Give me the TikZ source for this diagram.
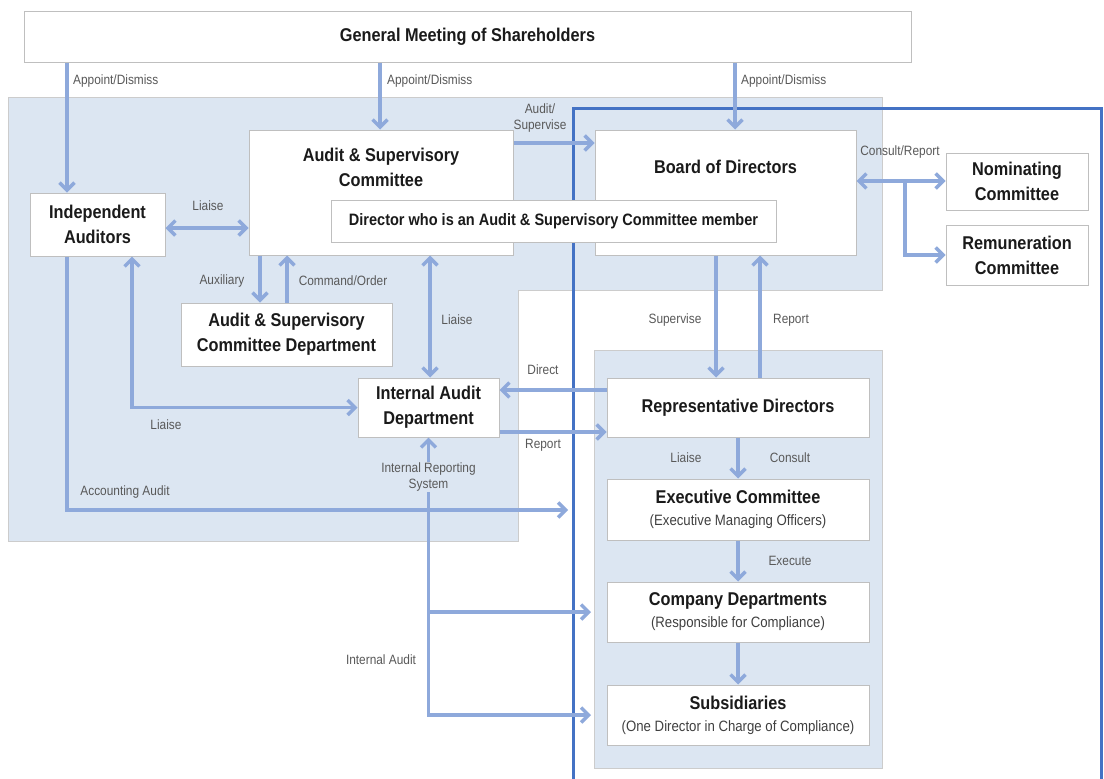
\documentclass[tikz,border=0pt]{standalone}
\usepackage{fontspec}
\setmainfont{Liberation Sans}[FakeStretch=0.88]
\usetikzlibrary{arrows.meta}
\definecolor{bgblue}{HTML}{DCE6F2}
\definecolor{arrblue}{HTML}{8EA9DB}
\definecolor{darkblue}{HTML}{4472C4}
\definecolor{boxgray}{HTML}{BFBFBF}
\definecolor{lblgray}{HTML}{595959}
\definecolor{ttlblack}{HTML}{1A1A1A}
\definecolor{subgray}{HTML}{404040}
\newcommand\boxfont{\fontsize{18.5}{25}\selectfont\bfseries}
\newcommand\subfont{\fontsize{15}{22}\selectfont}
\newcommand\lblfont{\fontsize{13.5}{16}\selectfont}
\newcommand\dirfont{\fontsize{16.5}{20}\selectfont\bfseries}
\tikzset{
  region/.style={fill=bgblue, draw=boxgray!80, line width=0.8pt},
  orgbox/.style={draw=boxgray, line width=1pt, fill=white, inner sep=0pt, align=center, text=ttlblack, font=\boxfont},
  subbox/.style={orgbox, font=\subfont, text=subgray},
  ttl/.style={inner sep=0pt, align=center, text=ttlblack, font=\boxfont},
  lbl/.style={inner sep=1pt, align=center, text=lblgray, font=\lblfont},
  tip/.tip={Straight Barb[length=7.5pt,width=15pt]},
  arr/.style={draw=arrblue, line width=3.5pt, -tip},
  arrtwo/.style={draw=arrblue, line width=3.5pt, tip-tip},
  frame/.style={draw=darkblue, line width=3pt}
}
\begin{document}
\begin{tikzpicture}[x=1pt,y=-1pt]
\useasboundingbox (0,0) rectangle (1104,779);
\fill[white] (0,0) rectangle (1104,779);
% background regions
\draw[region] (8,97) -- (882,97) -- (882,290) -- (518,290) -- (518,541) -- (8,541) -- cycle;
\draw[region] (594,350) rectangle (882,768);
% dark blue frame
\draw[frame] (573,779) -- (573,108) -- (1101,108) -- (1101,779);
% boxes
\node[orgbox, minimum width=887pt, minimum height=51pt] (gm) at (467.5,36.5) {General Meeting of Shareholders};
\node[orgbox, minimum width=135pt, minimum height=63pt] (ia) at (97.5,224.5) {Independent\\Auditors};
\node[orgbox, minimum width=264pt, minimum height=125pt] (asc) at (381,192.5) {};
\node[ttl] (asct) at (381,167) {Audit \& Supervisory\\Committee};
\node[orgbox, minimum width=261pt, minimum height=125pt] (bod) at (725.5,192.5) {};
\node[ttl] (bodt) at (725.5,167) {Board of Directors};
\node[orgbox, font=\dirfont, minimum width=445pt, minimum height=42pt] (dir) at (553.5,221) {Director who is an Audit \& Supervisory Committee member};
\node[orgbox, minimum width=142pt, minimum height=57pt] (nom) at (1017,181.5) {Nominating\\Committee};
\node[orgbox, minimum width=142pt, minimum height=60pt] (rem) at (1017,255) {Remuneration\\Committee};
\node[orgbox, minimum width=211pt, minimum height=63pt] (ascd) at (286.5,334.5) {Audit \& Supervisory\\Committee Department};
\node[orgbox, minimum width=141pt, minimum height=59pt] (iad) at (428.5,407.5) {Internal Audit\\Department};
\node[orgbox, minimum width=262pt, minimum height=59pt] (rep) at (738,407.5) {Representative Directors};
\node[subbox, minimum width=262pt, minimum height=61pt] (exe) at (738,509.5) {{\boxfont\color{ttlblack}Executive Committee}\\(Executive Managing Officers)};
\node[subbox, minimum width=262pt, minimum height=60pt] (cd) at (738,612) {{\boxfont\color{ttlblack}Company Departments}\\(Responsible for Compliance)};
\node[subbox, minimum width=262pt, minimum height=60pt] (sub) at (738,715) {{\boxfont\color{ttlblack}Subsidiaries}\\(One Director in Charge of Compliance)};
% helper coordinates
\coordinate (xA) at (67,0);
\coordinate (xB) at (380,0);
\coordinate (xC) at (735,0);
\coordinate (xL) at (132,0);
\coordinate (xAux) at (260,0);
\coordinate (xCmd) at (287,0);
\coordinate (xLi) at (430,0);
\coordinate (xSup) at (716,0);
\coordinate (xRep) at (760,0);
\coordinate (xBr) at (905,0);
\coordinate (yAS) at (0,143);
\coordinate (yLi) at (0,228);
\coordinate (yCR) at (0,181);
\coordinate (yDir) at (0,390);
\coordinate (yRpt) at (0,432);
\coordinate (accEnd) at (568,510);
\coordinate (jCD) at (428.5,612);
\coordinate (cdEnd) at (591,612);
\coordinate (subEnd) at (591,715);
% connectors
\draw[arr] (gm.south -| xA) -- (ia.north -| xA);
\draw[arr] (gm.south -| xB) -- (asc.north -| xB);
\draw[arr] (gm.south -| xC) -- (bod.north -| xC);
\draw[arr] (asc.east |- yAS) -- (bod.west |- yAS);
\draw[arrtwo] (ia.east |- yLi) -- (asc.west |- yLi);
\draw[arr] (asc.south -| xAux) -- (ascd.north -| xAux);
\draw[arr] (ascd.north -| xCmd) -- (asc.south -| xCmd);
\draw[arrtwo] (asc.south -| xLi) -- (iad.north -| xLi);
\draw[arrtwo] (ia.south -| xL) |- (iad.west);
\draw[arr] (ia.south -| xA) |- (accEnd);
\draw[arr] (rep.west |- yDir) -- (iad.east |- yDir);
\draw[arr] (iad.east |- yRpt) -- (rep.west |- yRpt);
\draw[arrtwo] (iad.south) |- (subEnd);
\draw[arr] (jCD) -- (cdEnd);
\draw[arr] (bod.south -| xSup) -- (rep.north -| xSup);
\draw[arr] (rep.north -| xRep) -- (bod.south -| xRep);
\draw[arrtwo] (bod.east |- yCR) -- (nom.west |- yCR);
\draw[arr] (xBr |- yCR) |- (rem.west);
\draw[arr] (rep.south) -- (exe.north);
\draw[arr] (exe.south) -- (cd.north);
\draw[arr] (cd.south) -- (sub.north);
% labels
\node[lbl, anchor=west] (l1) at (72,81) {Appoint/Dismiss};
\node[lbl, anchor=west] (l2) at (386,81) {Appoint/Dismiss};
\node[lbl, anchor=west] (l3) at (740,81) {Appoint/Dismiss};
\node[lbl] (l4) at (540,118) {Audit/\\Supervise};
\node[lbl] (l5) at (208,206) {Liaise};
\node[lbl] (l6) at (222,281) {Auxiliary};
\node[lbl] (l7) at (343,281) {Command/Order};
\node[lbl] (l8) at (457,320) {Liaise};
\node[lbl] (l9) at (166,425) {Liaise};
\node[lbl] (l10) at (125,492) {Accounting Audit};
\node[lbl] (l11) at (543,370) {Direct};
\node[lbl] (l12) at (543,445) {Report};
\node[lbl, fill=bgblue] (l13) at (428.5,477) {Internal Reporting\\System};
\node[lbl] (l14) at (381,660) {Internal Audit};
\node[lbl] (l15) at (675,320) {Supervise};
\node[lbl] (l16) at (791,320) {Report};
\node[lbl] (l17) at (900,152) {Consult/Report};
\node[lbl] (l18) at (686,458) {Liaise};
\node[lbl] (l19) at (790,458) {Consult};
\node[lbl] (l20) at (790,561) {Execute};
\end{tikzpicture}
\end{document}
